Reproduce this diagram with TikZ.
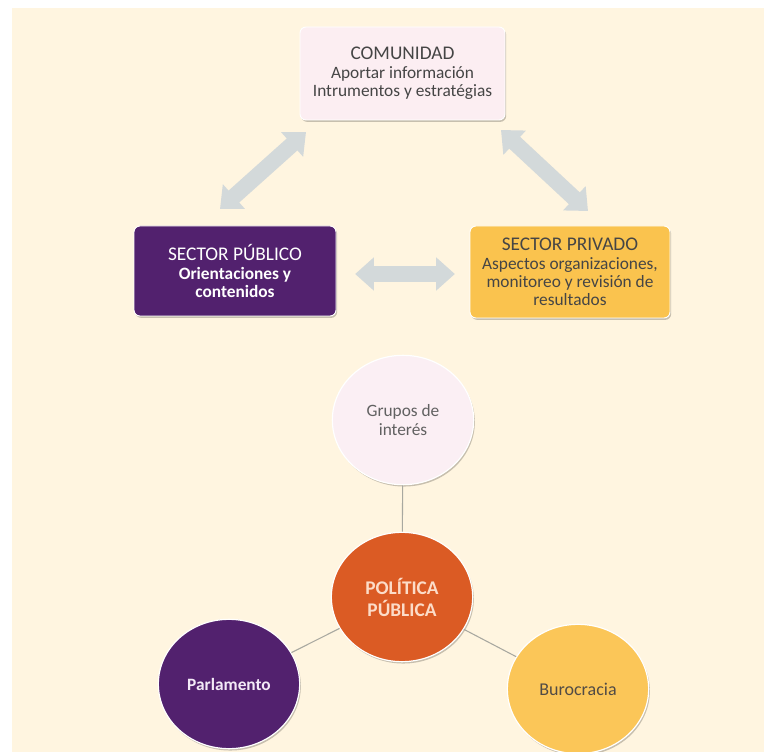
\documentclass[tikz,border=0pt]{standalone}
\usepackage{fontspec}
\setmainfont{Carlito}
\usetikzlibrary{shapes.geometric,arrows.meta,shadows}
\definecolor{cream}{HTML}{FFF5E0}
\definecolor{compink}{HTML}{FCEEF2}
\definecolor{purp}{HTML}{52216E}
\definecolor{gold}{HTML}{FAC34E}
\definecolor{goldc}{HTML}{FBC658}
\definecolor{orng}{HTML}{DB5B24}
\definecolor{poltext}{HTML}{FCDCC8}
\definecolor{grupfill}{HTML}{FBEFF4}
\definecolor{arrgray}{HTML}{D3D9DA}
\definecolor{linkgray}{HTML}{A8A8A0}
\definecolor{txtgray}{HTML}{454545}
\definecolor{lavtext}{HTML}{F3EAF7}
\tikzset{
  shd/.style={drop shadow={shadow xshift=0.9pt, shadow yshift=-1.4pt, opacity=0.22, fill=black}},
  sbox/.style={rectangle, rounded corners=4.5pt, align=center, inner sep=2pt, shd,
    draw=white, line width=0.7pt, font=\fontsize{13}{13.8}\selectfont},
  circ/.style={ellipse, minimum width=106pt, minimum height=97pt, inner sep=0pt, align=center,
    shd, draw=white, line width=0.9pt},
  bigarr/.style={draw=arrgray, line width=12pt,
    {Triangle[length=14pt,width=24pt]}-{Triangle[length=14pt,width=24pt]}},
  link/.style={draw=linkgray, line width=0.8pt}
}
\newcommand{\ttlfont}{\fontsize{14.5}{13.8}\selectfont}
\begin{document}
\begin{tikzpicture}[x=0.75pt,y=-0.75pt]
\useasboundingbox (0,0) rectangle (764,752);
\fill[white] (0,0) rectangle (764,752);
\fill[cream] (12,8) rectangle (764,752);

% boxes
\node[sbox, fill=compink, text=txtgray, minimum width=153.75pt, minimum height=69.75pt]
  (com) at (402.5,73.5) {{\ttlfont COMUNIDAD}\\Aportar información\\Intrumentos y estratégias};
\node[sbox, fill=purp, text=white, minimum width=151.5pt, minimum height=67.5pt]
  (pub) at (235,271) {{\ttlfont SECTOR PÚBLICO}\\\textbf{Orientaciones y}\\\textbf{contenidos}};
\node[sbox, fill=gold, text=txtgray, minimum width=150pt, minimum height=69pt]
  (priv) at (570,272) {{\ttlfont SECTOR PRIVADO}\\Aspectos organizaciones,\\monitoreo y revisión de\\resultados};

% block arrows
\coordinate (l1) at (220,209);
\coordinate (l2) at (306,132);
\coordinate (r1) at (501,130);
\coordinate (r2) at (588,211);
\draw[bigarr] (l1) -- (l2);
\draw[bigarr] (r1) -- (r2);
\draw[bigarr, shorten <=14pt, shorten >=11pt] ([yshift=-2.25pt]pub.east) -- ([yshift=-2.25pt]pub.east -| priv.west);

% circles
\node[circ, fill=grupfill, text=txtgray!85, font=\fontsize{13}{14}\selectfont]
  (gru) at (403,420) {Grupos de\\interés};
\node[circ, fill=orng, text=poltext, font=\fontsize{14.5}{16.5}\selectfont\bfseries]
  (pol) at (402,597) {POLÍTICA\\PÚBLICA};
\node[circ, fill=purp, text=lavtext, font=\fontsize{13}{14}\selectfont\bfseries]
  (par) at (229,684) {Parlamento};
\node[circ, fill=goldc, text=txtgray!90!brown, font=\fontsize{13.5}{14}\selectfont]
  (bur) at (578,689) {Burocracia};

\draw[link] (gru) -- (pol);
\draw[link] (pol) -- (par);
\draw[link] (pol) -- (bur);
\end{tikzpicture}
\end{document}
